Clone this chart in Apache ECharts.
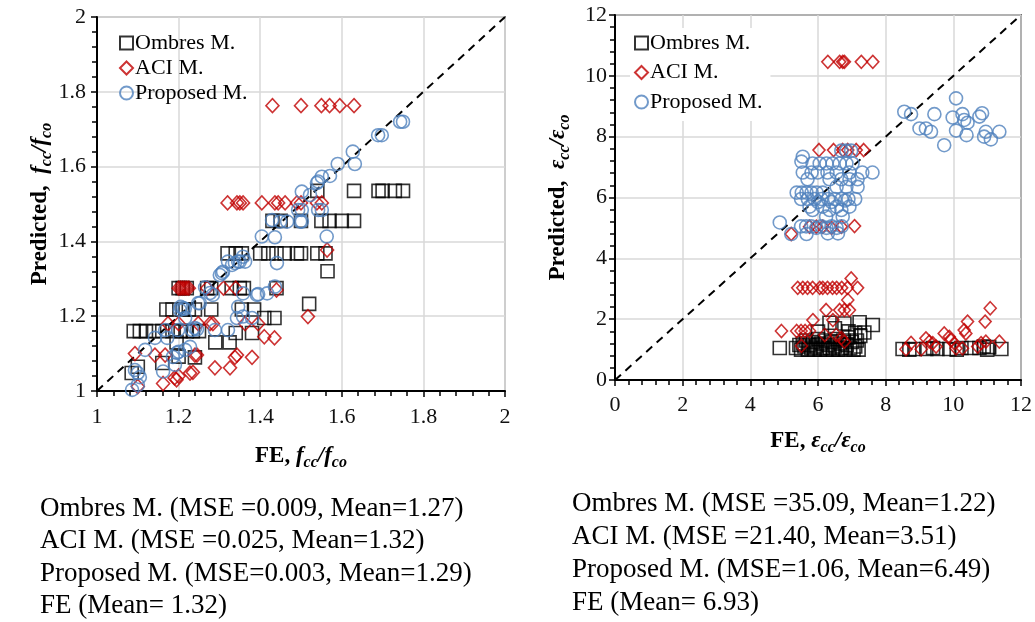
<!DOCTYPE html>
<html>
<head>
<meta charset="utf-8">
<script src="https://cdn.jsdelivr.net/npm/echarts@6/dist/echarts.min.js"></script>
<style>html,body{margin:0;padding:0;background:#fff}#c{width:1035px;height:622px}</style>
</head>
<body>
<div id="c"></div>
<script>
// ---------- DATA ----------
const leftTicks = [1, 1.2, 1.4, 1.6, 1.8, 2];
const rightTicks = [0, 2, 4, 6, 8, 10, 12];
const seriesNames = ['Ombres M.', 'ACI M.', 'Proposed M.'];

const ombresL = [[1.54,1.535],[1.63,1.535],[1.69,1.535],[1.70,1.535],[1.73,1.535],[1.75,1.535],
[1.43,1.455],[1.45,1.455],[1.50,1.455],[1.55,1.455],[1.57,1.455],[1.60,1.455],[1.63,1.455],
[1.32,1.368],[1.34,1.368],[1.355,1.368],[1.40,1.368],[1.42,1.368],[1.44,1.368],[1.46,1.368],[1.49,1.368],[1.50,1.368],[1.54,1.368],[1.56,1.368],
[1.565,1.32],
[1.20,1.275],[1.21,1.275],[1.22,1.275],[1.27,1.275],[1.28,1.275],[1.33,1.275],[1.35,1.275],[1.36,1.275],[1.44,1.275],
[1.17,1.218],[1.185,1.218],[1.21,1.218],[1.225,1.218],[1.24,1.218],[1.28,1.218],[1.355,1.218],[1.385,1.218],[1.52,1.233],
[1.41,1.195],[1.435,1.195],
[1.09,1.16],[1.105,1.16],[1.12,1.16],[1.14,1.16],[1.16,1.16],[1.185,1.16],[1.205,1.16],[1.22,1.16],[1.235,1.16],[1.25,1.16],[1.34,1.155],[1.38,1.155],
[1.195,1.13],[1.29,1.13],[1.325,1.13],
[1.20,1.092],[1.24,1.09],[1.16,1.075],[1.085,1.048],[1.10,1.065]];

const aciL = [[1.43,1.763],[1.50,1.763],[1.55,1.763],[1.57,1.763],[1.595,1.763],[1.63,1.763],
[1.32,1.503],[1.343,1.503],[1.35,1.503],[1.358,1.503],[1.404,1.503],[1.436,1.503],[1.444,1.503],[1.461,1.503],[1.49,1.503],[1.50,1.503],[1.539,1.503],[1.551,1.503],
[1.564,1.377],
[1.20,1.275],[1.205,1.275],[1.21,1.275],[1.215,1.275],[1.22,1.275],[1.225,1.275],[1.27,1.275],[1.31,1.275],[1.34,1.275],[1.44,1.27],
[1.517,1.199],
[1.174,1.18],[1.20,1.18],[1.248,1.18],[1.277,1.18],[1.284,1.18],[1.363,1.18],[1.395,1.18],
[1.41,1.145],[1.435,1.142],
[1.093,1.1],[1.142,1.096],[1.167,1.096],[1.24,1.096],[1.245,1.096],[1.343,1.096],[1.338,1.09],[1.38,1.09],
[1.289,1.062],[1.326,1.062],
[1.228,1.048],[1.235,1.05],[1.19,1.035],[1.195,1.03],[1.20,1.04],[1.162,1.02],[1.10,1.012]];

const propL = [[1.743,1.72],[1.75,1.72],[1.689,1.684],[1.698,1.684],[1.627,1.64],[1.632,1.607],[1.59,1.607],[1.571,1.575],
[1.551,1.573],[1.542,1.56],[1.539,1.556],[1.502,1.533],[1.522,1.524],[1.493,1.484],[1.502,1.484],[1.542,1.484],[1.551,1.484],
[1.498,1.453],[1.502,1.453],[1.429,1.457],[1.449,1.453],[1.466,1.453],[1.563,1.413],[1.404,1.413],[1.436,1.411],
[1.358,1.359],[1.35,1.346],[1.338,1.342],[1.331,1.337],[1.321,1.346],[1.346,1.346],[1.363,1.346],[1.441,1.342],
[1.309,1.319],[1.301,1.31],[1.306,1.315],[1.436,1.279],[1.417,1.261],[1.395,1.259],[1.358,1.261],[1.392,1.257],
[1.265,1.277],[1.277,1.262],[1.284,1.257],[1.252,1.235],[1.248,1.235],[1.346,1.225],[1.358,1.199],[1.38,1.195],[1.343,1.195],
[1.211,1.222],[1.203,1.217],[1.205,1.225],[1.215,1.22],[1.216,1.195],[1.24,1.168],[1.233,1.163],[1.245,1.165],[1.199,1.163],[1.167,1.163],
[1.321,1.163],[1.289,1.163],[1.142,1.142],[1.172,1.142],[1.228,1.118],[1.216,1.11],[1.196,1.102],[1.2,1.105],[1.186,1.091],
[1.118,1.11],[1.162,1.052],[1.191,1.07],[1.093,1.056],[1.1,1.048],[1.105,1.037],[1.086,1.003],[1.1,1.016]];

const ombresR = [[5.35,1.05],[5.45,1.15],[5.5,1.0],[5.55,1.2],[5.6,1.1],[5.65,1.3],[5.7,1.0],[5.75,1.15],[5.8,1.05],[5.85,1.25],
[5.9,1.0],[5.95,1.1],[6.0,1.35],[6.05,1.0],[6.1,1.2],[6.15,1.05],[6.2,1.3],[6.25,1.0],[6.3,1.15],[6.35,1.05],[6.4,1.25],
[6.45,1.0],[6.5,1.1],[6.55,1.35],[6.6,1.0],[6.65,1.2],[6.7,1.05],[6.75,1.3],[6.8,1.0],[6.85,1.15],[6.9,1.4],[6.95,1.05],
[7.0,1.25],[7.05,1.0],[7.1,1.1],[7.15,1.3],[7.2,1.0],[7.25,1.45],
[4.87,1.05],[6.0,1.59],[6.34,1.88],[6.78,1.86],[7.37,1.56],[7.62,1.81],[7.23,1.9],[6.9,1.6],[6.5,1.7],[7.1,1.55],
[8.5,1.02],[8.85,1.02],[9.2,1.02],[9.53,1.02],[9.88,1.02],[10.24,1.05],[10.53,1.05],[10.77,1.05],[11.06,1.08],[11.42,1.02],
[8.7,1.0],[9.4,1.05],[10.1,1.0],[10.9,1.1],[11.0,1.0]];

const aciR = [[6.29,10.46],[6.64,10.46],[6.73,10.46],[6.78,10.46],[7.28,10.46],[7.62,10.46],
[6.03,7.56],[6.46,7.56],[6.73,7.56],[6.88,7.56],[7.13,7.56],[7.35,7.56],
[5.21,4.8],[7.08,5.06],[5.75,5.04],[5.95,5.04],[6.14,5.04],[6.69,5.04],[6.4,5.0],
[5.40,3.03],[5.55,3.03],[5.69,3.03],[5.84,3.03],[6.05,3.03],[6.14,3.03],[6.28,3.03],[6.43,3.03],[6.55,3.03],[6.70,3.03],[6.87,3.03],[7.17,3.03],
[6.98,3.34],[6.88,2.63],[6.24,2.3],[6.64,2.3],[6.78,2.3],[6.93,2.3],[5.85,1.97],[6.44,1.97],
[4.92,1.61],[5.37,1.61],[5.5,1.61],[5.62,1.61],[5.75,1.61],[5.51,1.12],[6.2,1.48],[6.54,1.48],[6.69,1.38],[6.78,1.26],
[8.6,1.01],[8.75,1.22],[9.05,1.01],[9.19,1.37],[9.29,1.26],[9.39,1.21],[9.49,1.1],[9.73,1.53],[9.88,1.42],[9.93,1.31],
[10.03,1.21],[10.08,1.04],[10.32,1.64],[10.37,1.53],[10.42,1.92],[10.27,1.04],[10.72,1.1],[10.82,1.21],[10.96,1.26],
[10.94,1.92],[11.09,2.36],[11.36,1.26]];

const propR = [[6.69,7.54],[6.84,7.54],[6.98,7.54],
[5.55,7.34],[5.51,7.18],[5.84,7.12],[6.05,7.12],[6.25,7.12],[6.43,7.12],[6.64,7.12],[6.84,7.12],[7.02,7.12],
[5.55,6.82],[5.81,6.82],[5.99,6.82],[6.28,6.82],[6.55,6.82],[6.93,6.82],[7.31,6.82],[7.61,6.82],
[5.69,6.6],[6.34,6.6],[6.69,6.6],[6.93,6.6],[7.17,6.6],
[6.55,6.35],[6.84,6.35],[7.17,6.35],
[5.37,6.16],[5.52,6.16],[5.66,6.16],[5.81,6.16],[5.96,6.16],[6.14,6.16],
[5.5,5.95],[5.7,5.95],[5.9,5.95],[6.1,5.95],[6.3,5.95],[6.5,5.95],[6.7,5.95],[6.9,5.95],[7.1,5.95],[6.0,5.85],[6.4,5.85],[6.8,5.9],
[5.75,5.7],[6.14,5.7],[6.55,5.7],[6.93,5.7],
[5.84,5.59],[6.34,5.59],[6.69,5.59],[6.24,5.37],[6.73,5.37],
[4.87,5.18],
[5.5,5.05],[5.65,5.05],[5.8,5.05],[5.95,5.0],[6.1,5.05],[6.25,5.0],[6.4,5.05],[6.55,5.0],[6.7,5.05],
[5.21,4.8],[5.66,4.8],[6.29,4.82],[6.59,4.82],
[10.08,9.26],[8.55,8.82],[8.75,8.74],[9.44,8.74],[9.98,8.63],[10.27,8.74],[10.32,8.55],[10.42,8.46],[10.77,8.66],[10.85,8.77],
[9.0,8.27],[9.19,8.27],[9.34,8.16],[10.08,8.2],[10.39,8.05],[9.73,7.72],[10.96,8.16],[10.91,8.0],[11.11,7.91],[11.36,8.16]];

const diagL = [[1, 1], [2, 2]];
const diagR = [[0, 0], [12, 12]];

const leftStats = ['Ombres M. (MSE =0.009, Mean=1.27)', 'ACI M. (MSE =0.025, Mean=1.32)', 'Proposed M. (MSE=0.003, Mean=1.29)', 'FE (Mean= 1.32)'];
const rightStats = ['Ombres M. (MSE =35.09, Mean=1.22)', 'ACI M. (MSE =21.40, Mean=3.51)', 'Proposed M. (MSE=1.06, Mean=6.49)', 'FE (Mean= 6.93)'];

// ---------- STYLE ----------
const FONT = '"Liberation Serif", "Times New Roman", serif';
const BLACK = '#000000', RED = '#C00000', BLUE = '#4F81BD';

const rich = {
  b: {fontFamily: FONT, fontWeight: 'bold', fontSize: 23, color: '#000'},
  i: {fontFamily: FONT, fontWeight: 'bold', fontStyle: 'italic', fontSize: 23, color: '#000'},
  s: {fontFamily: FONT, fontWeight: 'bold', fontStyle: 'italic', fontSize: 16, color: '#000', padding: [14, 0, 0, 0]}
};

function mkAxis(ticks, gridIndex, extra, labelMargin) {
  const interval = ticks[1] - ticks[0];
  return Object.assign({
    type: 'value', gridIndex: gridIndex,
    min: ticks[0], max: ticks[ticks.length - 1], interval: interval,
    axisLine: {show: true, lineStyle: {color: BLACK, width: 2}},
    axisTick: {show: true, inside: false, length: 6, lineStyle: {color: BLACK, width: 1.5}},
    minorTick: {show: true, splitNumber: 5, length: 5, lineStyle: {color: BLACK, width: 1.5}},
    splitLine: {show: true, lineStyle: {color: '#d9d9d9', width: 1.5}},
    axisLabel: {fontFamily: FONT, fontSize: 22, color: '#111', margin: labelMargin,
      formatter: v => String(Math.round(v * 10) / 10)},
    nameLocation: 'middle',
    nameTextStyle: {rich: rich}
  }, extra);
}

function scatter(name, data, idx, symbol, color, size) {
  return {
    type: 'scatter', name: name, data: data, xAxisIndex: idx, yAxisIndex: idx,
    symbol: symbol, symbolSize: size,
    itemStyle: {color: 'rgba(255,255,255,0)', borderColor: color, borderWidth: 1.6},
    emphasis: {disabled: true}, z: 3
  };
}

function diag(data, idx) {
  return {type: 'line', data: data, xAxisIndex: idx, yAxisIndex: idx, symbol: 'none', silent: true,
    lineStyle: {color: BLACK, width: 2, type: [8, 6]}, z: 2};
}

const graphics = [];
leftStats.forEach((t, k) => graphics.push({type: 'text', left: 40, top: 495 + k * 32.5,
  style: {text: t, font: '27px ' + FONT, fill: '#000'}}));
rightStats.forEach((t, k) => graphics.push({type: 'text', left: 572, top: 490 + k * 33,
  style: {text: t, font: '27px ' + FONT, fill: '#000'}}));

const legendBase = {
  orient: 'vertical', itemWidth: 13, itemHeight: 13,
  textStyle: {fontFamily: FONT, fontSize: 22, color: '#000', lineHeight: 22, padding: [0, 0, 0, -3]},
  data: seriesNames, selectedMode: false
};

const option = {
  animation: false,
  backgroundColor: '#fff',
  grid: [
    {left: 97, top: 17, width: 408, height: 374, show: true, borderColor: BLACK, borderWidth: 1.5, backgroundColor: 'transparent'},
    {left: 615, top: 15, width: 407, height: 365, show: true, borderColor: BLACK, borderWidth: 1.5, backgroundColor: 'transparent'}
  ],
  xAxis: [
    mkAxis(leftTicks, 0, {name: '{b|FE, }{i|f}{s|cc}{i|/f}{s|co}', nameGap: 50}, 15),
    mkAxis(rightTicks, 1, {name: '{b|FE, }{i|ε}{s|cc}{i|/ε}{s|co}', nameGap: 46}, 14)
  ],
  yAxis: [
    mkAxis(leftTicks, 0, {name: '{b|Predicted,  }{i|f}{s|cc}{i|/f}{s|co}', nameGap: 36}, 11),
    mkAxis(rightTicks, 1, {name: '{b|Predicted,  }{i|ε}{s|cc}{i|/ε}{s|co}', nameGap: 42}, 8)
  ],
  legend: [
    Object.assign({}, legendBase, {left: 114, top: 27, itemGap: 3}),
    Object.assign({}, legendBase, {left: 630, top: 28, itemGap: 7.5, backgroundColor: '#fff', padding: [4, 8, 8, 4]})
  ],
  series: [
    diag(diagL, 0), diag(diagR, 1),
    scatter('Ombres M.', ombresL, 0, 'rect', BLACK, 13),
    scatter('ACI M.', aciL, 0, 'diamond', RED, [13, 14]),
    scatter('Proposed M.', propL, 0, 'circle', BLUE, 13),
    scatter('Ombres M.', ombresR, 1, 'rect', BLACK, 13),
    scatter('ACI M.', aciR, 1, 'diamond', RED, [12, 13]),
    scatter('Proposed M.', propR, 1, 'circle', BLUE, 13)
  ],
  graphic: graphics
};

const chart = echarts.init(document.getElementById('c'), null, {renderer: 'canvas'});
chart.setOption(option);
</script>
</body>
</html>
